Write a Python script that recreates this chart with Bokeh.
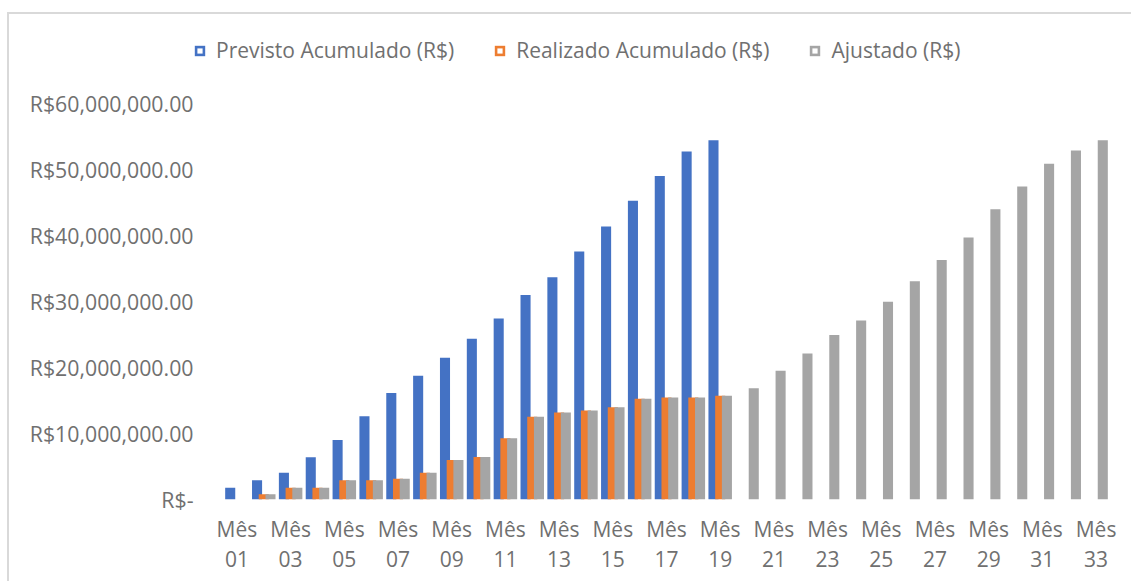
from bokeh.plotting import figure
from bokeh.models import Range1d, FixedTicker, Legend, LegendItem, ColumnDataSource
from bokeh.layouts import column
from bokeh.embed import file_html
from bokeh.resources import INLINE

months = ["Mês 01", "Mês 02", "Mês 03", "Mês 04", "Mês 05", "Mês 06", "Mês 07", "Mês 08",
          "Mês 09", "Mês 10", "Mês 11", "Mês 12", "Mês 13", "Mês 14", "Mês 15", "Mês 16",
          "Mês 17", "Mês 18", "Mês 19", "Mês 20", "Mês 21", "Mês 22", "Mês 23", "Mês 24",
          "Mês 25", "Mês 26", "Mês 27", "Mês 28", "Mês 29", "Mês 30", "Mês 31", "Mês 32",
          "Mês 33"]

previsto = [1790000, 2910000, 4070000, 6400000, 9030000, 12620000, 16120000, 18740000,
            21470000, 24360000, 27440000, 30990000, 33660000, 37560000, 41350000, 45250000,
            49010000, 52730000, 54450000]

realizado = [None, 790000, 1790000, 1790000, 2910000, 2910000, 3160000, 4070000,
             5990000, 6450000, 9290000, 12520000, 13170000, 13470000, 13990000, 15250000,
             15450000, 15450000, 15710000]

ajustado = [None, 790000, 1790000, 1790000, 2910000, 2910000, 3160000, 4070000,
            5990000, 6450000, 9290000, 12520000, 13170000, 13470000, 13990000, 15250000,
            15450000, 15450000, 15710000, 16870000, 19500000, 22120000, 24920000, 27130000,
            29970000, 33050000, 36300000, 39680000, 43980000, 47420000, 50860000, 52880000,
            54450000]

y_ticks = [0, 10000000, 20000000, 30000000, 40000000, 50000000, 60000000]

series_names = ["Previsto Acumulado (R$)", "Realizado Acumulado (R$)", "Ajustado (R$)"]
colors = ["#4472C4", "#ED7D31", "#A5A5A5"]
TXT = "#707070"
FONT = "Open Sans"


def xy(vals, offset):
    xs, ys = [], []
    for i, v in enumerate(vals):
        if v is None:
            continue
        xs.append(i + 1 + offset)
        ys.append(v)
    return dict(x=xs, top=ys)


sources = [ColumnDataSource(xy(vals, off))
           for vals, off in [(previsto, -0.25), (realizado, 0.0), (ajustado, 0.25)]]

# ---------------- main chart ----------------
p = figure(width=1122, height=497, output_backend="svg", toolbar_location=None, title=None,
           x_range=Range1d(0.5, len(months) + 0.5), y_range=Range1d(0, 60000000),
           min_border_left=214, min_border_right=22, min_border_top=19, min_border_bottom=82)
p.frame_align = False
p.outline_line_color = None
p.grid.visible = False
p.border_fill_color = "white"

bw = 0.375
for src, col in zip(sources, colors):
    p.vbar(x="x", top="top", bottom=0, width=bw, source=src, fill_color=col, line_color=None)

p.xaxis.ticker = FixedTicker(ticks=[i + 1 for i in range(0, len(months), 2)])
p.xaxis.major_label_overrides = {i + 1: months[i].replace(" ", "\n") for i in range(0, len(months), 2)}
p.yaxis.ticker = FixedTicker(ticks=y_ticks)
p.yaxis.major_label_overrides = {t: ("R$-" if t == 0 else "R${:,.2f}".format(t)) for t in y_ticks}
for ax in (p.xaxis[0], p.yaxis[0]):
    ax.axis_line_color = None
    ax.major_tick_line_color = None
    ax.minor_tick_line_color = None
    ax.major_tick_in = 0
    ax.major_tick_out = 0
    ax.major_label_text_font = FONT
    ax.major_label_text_color = TXT
p.xaxis.major_label_text_font_size = "21px"
p.xaxis.major_label_text_line_height = 1.1
p.xaxis.major_label_standoff = 15
p.yaxis.major_label_text_font_size = "21.3px"
p.yaxis.major_label_standoff = 30

# ---------------- legend strip ----------------
# its x range lies outside the data, so its renderers only serve as legend keys
lg = figure(width=1122, height=70, output_backend="svg", toolbar_location=None, title=None,
            x_range=Range1d(-3, -2), y_range=Range1d(0, 1),
            min_border_left=0, min_border_right=0, min_border_top=0, min_border_bottom=0)
lg.frame_align = False
lg.axis.visible = False
lg.grid.visible = False
lg.outline_line_color = None
lg.border_fill_color = "white"

keys = [lg.vbar(x="x", top="top", bottom=0, width=bw, source=src,
                fill_color=col, line_color=None) for src, col in zip(sources, colors)]
white_mark = lg.scatter(x="x", y="top", source=sources[0],
                        marker="square", size=5, fill_color="white", line_color=None)

legend = Legend(items=[LegendItem(label=series_names[k], renderers=[keys[k], white_mark])
                       for k in range(3)],
                orientation="horizontal", location=(184, 20),
                glyph_width=13, glyph_height=13, label_standoff=10, spacing=39,
                padding=0, margin=0, border_line_color=None, background_fill_alpha=0,
                label_text_font=FONT, label_text_font_size="21px", label_text_color=TXT)
lg.add_layout(legend)

layout = column(lg, p, spacing=0,
                styles={"border-top": "2px solid #D9D9D9", "border-left": "2px solid #D9D9D9",
                        "margin-top": "12px", "margin-left": "7px"})
open("out.html", "w").write(file_html(layout, INLINE))
